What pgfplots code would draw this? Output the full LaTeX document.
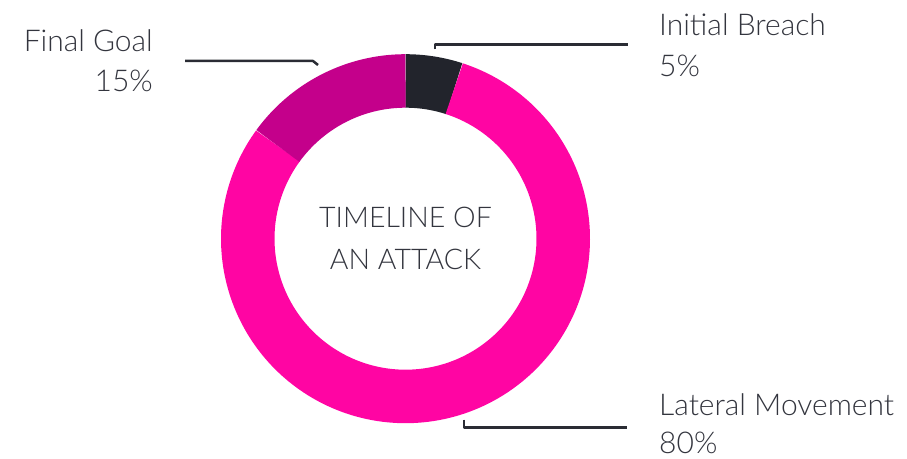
\documentclass[border=0pt]{standalone}
\usepackage{pgfplots}
\pgfplotsset{compat=1.18}
\usepackage{pgfplotstable}
\usepackage{fontspec}
\setmainfont{Lato Light}
\definecolor{cdark}{HTML}{22242C}
\definecolor{cpink}{HTML}{FF05A3}
\definecolor{cmag}{HTML}{C4008B}
\definecolor{ctext}{HTML}{33353E}
\definecolor{cline}{HTML}{2A2C34}

\pgfplotstableread{
label value
InitialBreach 5
LateralMovement 80
FinalGoal 15
}\shares
\pgfplotstablegetelem{0}{value}\of\shares \let\vA\pgfplotsretval
\pgfplotstablegetelem{1}{value}\of\shares \let\vB\pgfplotsretval
\pgfplotstablegetelem{2}{value}\of\shares \let\vC\pgfplotsretval
\pgfmathsetmacro\aStart{90}
\pgfmathsetmacro\aA{\aStart-3.6*\vA}
\pgfmathsetmacro\aB{\aA-3.6*\vB}
\pgfmathsetmacro\aC{\aB-3.6*\vC}
\def\cx{405.5}
\def\cy{219.3}
\def\rm{157.75}

\begin{document}
\begin{tikzpicture}
\path[use as bounding box] (0,0) rectangle (907pt,458pt);
\begin{axis}[
  at={(0,0)}, anchor=south west,
  width=907pt, height=458pt, scale only axis,
  xmin=0, xmax=907, ymin=0, ymax=458,
  hide axis, clip=false,
]
\addplot[cdark, line width=53.5pt, domain=\aA:\aStart, samples=30, variable=\t, no markers]
  ({\cx+\rm*cos(\t)},{\cy+\rm*sin(\t)});
\addplot[cpink, line width=53.5pt, domain=\aB:\aA, samples=200, variable=\t, no markers]
  ({\cx+\rm*cos(\t)},{\cy+\rm*sin(\t)});
\addplot[cmag, line width=53.5pt, domain=\aC:\aB, samples=60, variable=\t, no markers]
  ({\cx+\rm*cos(\t)},{\cy+\rm*sin(\t)});

% leader lines
\addplot[cline, line width=2.5pt, no markers, line join=round] coordinates {(435,408.5) (435,413.5) (628,413.5)};
\addplot[cline, line width=2.5pt, no markers, line join=round] coordinates {(185,397) (313,397) (318,393)};
\addplot[cline, line width=2.5pt, no markers, line join=round] coordinates {(464,38.5) (464,30.5) (627,30.5)};

% labels
\node[anchor=base west, inner sep=0pt, text=ctext, font=\fontsize{30}{34}\selectfont] at (axis cs:659,422) {Initial Breach};
\node[anchor=base west, inner sep=0pt, text=ctext, font=\fontsize{30}{34}\selectfont] at (axis cs:659,381) {5\%};
\node[anchor=base east, inner sep=0pt, text=ctext, font=\fontsize{30}{34}\selectfont] at (axis cs:153,406) {Final Goal};
\node[anchor=base east, inner sep=0pt, text=ctext, font=\fontsize{30}{34}\selectfont] at (axis cs:153,366) {15\%};
\node[anchor=base west, inner sep=0pt, text=ctext, font=\fontsize{30}{34}\selectfont] at (axis cs:659,43) {Lateral Movement};
\node[anchor=base west, inner sep=0pt, text=ctext, font=\fontsize{30}{34}\selectfont] at (axis cs:659,4.5) {80\%};
\node[anchor=base, inner sep=0pt, text=ctext, font=\fontsize{28.5}{34}\selectfont] at (axis cs:405.5,230.3) {TIMELINE OF};
\node[anchor=base, inner sep=0pt, text=ctext, font=\fontsize{28.5}{34}\selectfont] at (axis cs:405.5,188.7) {AN ATTACK};
\end{axis}
\end{tikzpicture}
\end{document}
